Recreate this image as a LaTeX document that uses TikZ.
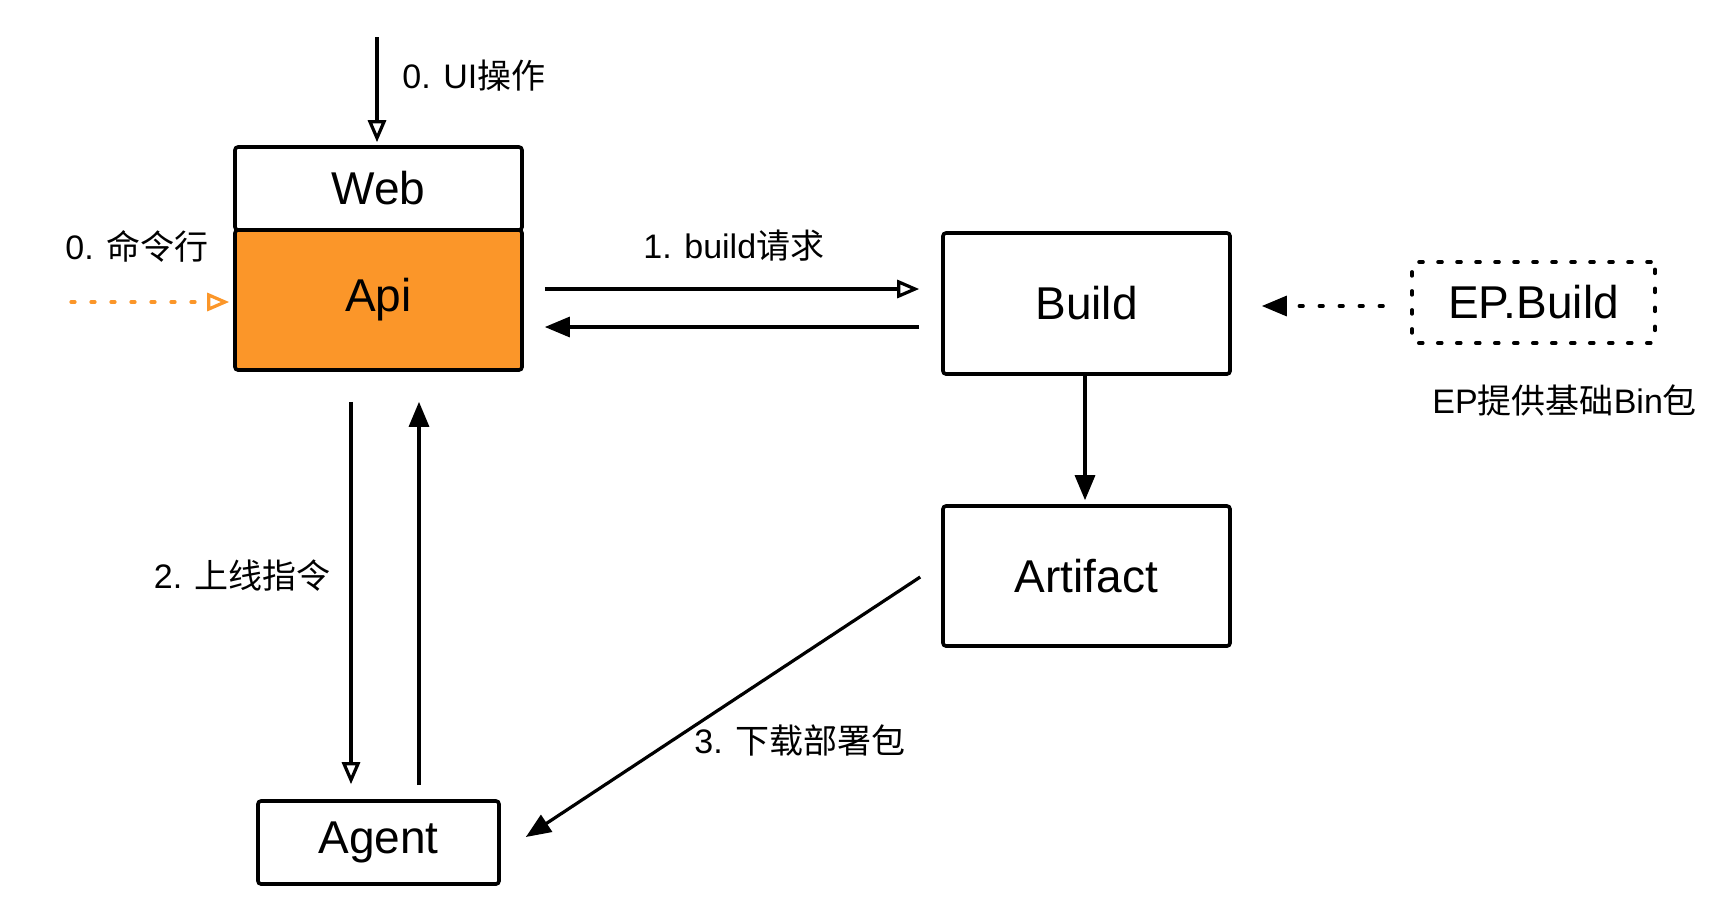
\documentclass[tikz,border=0pt]{standalone}
\usepackage{fontspec}
\setmainfont{Liberation Sans}
\newfontfamily\cjk{Noto Sans CJK SC}
\usetikzlibrary{arrows.meta,calc}
\definecolor{apiorange}{RGB}{251,150,41}
\tikzset{
  boxnode/.style={draw=black, line width=1.8pt, rounded corners=1.5pt, inner sep=0pt,
    font=\fontsize{23}{27}\selectfont, text=black},
  lbl/.style={anchor=west, inner sep=0pt, font=\fontsize{17}{20}\selectfont, text=black},
  conn/.style={line width=1.6pt, draw=black},
  openhead/.style={-{Triangle[open,length=11pt,width=9pt]}},
  fillhead/.style={-{Triangle[length=12.5pt,width=10pt]}},
  dotline/.style={line cap=round, dash pattern=on 2pt off 8pt},
}
\begin{document}
\begin{tikzpicture}[x=0.5pt,y=-0.5pt]
\useasboundingbox (0,0) rectangle (1732,918);
% boxes
\node[boxnode, fill=white, minimum width=143.5pt, minimum height=41.5pt] (web) at (378.5,188.5) {Web};
\node[boxnode, fill=apiorange, minimum width=143.5pt, minimum height=70pt] (api) at (378.5,300) {Api};
\node[boxnode, minimum width=143.5pt, minimum height=70.5pt] (build) at (1086.5,303.5) {Build};
\node[boxnode, minimum width=143.5pt, minimum height=70pt] (artifact) at (1086.5,576) {Artifact};
\node[boxnode, minimum width=120.5pt, minimum height=41.5pt] (agent) at (378.5,842.5) {Agent};
\node[boxnode, rounded corners=2pt, line cap=round, dash pattern=on 2pt off 7.5pt, minimum width=121.5pt, minimum height=40.5pt] (ep) at (1533.5,302.5) {EP.Build};
% labels
\node[lbl] (lui) at (402,76) {0. UI{\cjk 操作}};
\node[lbl] (lcmd) at (65,246) {0. {\cjk 命令行}};
\node[lbl] (lbuild) at (643,246) {1. build{\cjk 请求}};
\node[lbl] (lep) at (1432,400) {EP{\cjk 提供基础}Bin{\cjk 包}};
\node[lbl] (lcmd2) at (153.5,576) {2. {\cjk 上线指令}};
\node[lbl] (ldl) at (694,741) {3. {\cjk 下载部署包}};
% free ends
\coordinate (uistart) at (377,37);
\coordinate (cmdstart) at (71,302);
% connectors
\draw[conn, openhead] (uistart) -- ([shift={(-1.5,-3)}]web.north);
\draw[conn, openhead, draw=apiorange, dotline] (cmdstart) -- ([shift={(-4,2)}]api.west);
\draw[conn, openhead] ([shift={(21,-11)}]api.east) -- ([shift={(-22,-14.5)}]build.west);
\draw[conn, fillhead] ([shift={(-22,23.5)}]build.west) -- ([shift={(21,27)}]api.east);
\draw[conn, openhead] ([shift={(-27.5,30)}]api.south) -- ([shift={(-27.5,-15)}]agent.north);
\draw[conn, fillhead] ([shift={(40.5,-14)}]agent.north) -- ([shift={(40.5,30)}]api.south);
\draw[conn, fillhead] ([shift={(-1.5,0)}]build.south) -- ([shift={(-1.5,-4)}]artifact.north);
\draw[conn, fillhead] ([shift={(-21,1)}]artifact.west) -- ([shift={(25,-5.5)}]agent.east);
\draw[conn, fillhead, dotline] ([shift={(-27,3.5)}]ep.west) -- ([shift={(30,2.5)}]build.east);
\end{tikzpicture}
\end{document}
